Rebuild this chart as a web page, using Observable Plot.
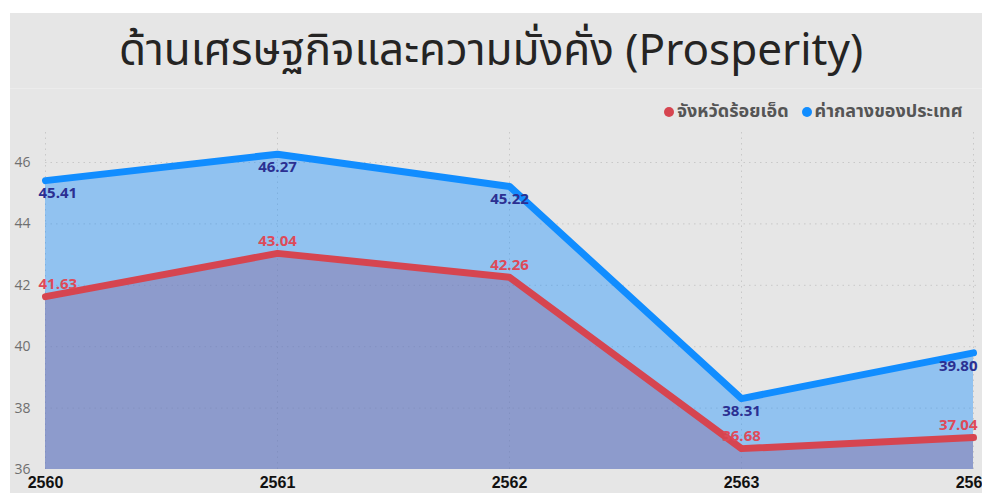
<!DOCTYPE html>
<html>
<head>
<meta charset="utf-8">
<script src="https://cdn.jsdelivr.net/npm/d3@7"></script>
<script src="https://cdn.jsdelivr.net/npm/@observablehq/plot@0.6"></script>
<style>
  html, body { margin: 0; padding: 0; background: #ffffff; width: 982px; height: 493px; overflow: hidden; }
  #panel { position: absolute; left: 10px; top: 13px; width: 972px; height: 480px; background: #e6e6e6; }
  #title { position: absolute; left: 0; top: 16px; width: 982px; height: 72px; text-align: center;
    font-family: "Noto Sans Thai", "Noto Sans", "DejaVu Sans", sans-serif; font-size: 44px; line-height: 72px; color: #252423; white-space: nowrap; }
  #sep { position: absolute; left: 10px; top: 88px; width: 972px; height: 1px; background: #ececec; }
  #legend { position: absolute; left: 664px; top: 99px; white-space: nowrap; font-family: "Noto Sans Thai", "Noto Sans", sans-serif;
    font-weight: 700; font-size: 18px; color: #555555; line-height: 26px; }
  #legend .dot { display: inline-block; width: 10px; height: 10px; border-radius: 50%; margin-right: 3px; vertical-align: 0px; }
  #legend .item { margin-right: 13px; }
  #chart { position: absolute; left: 0; top: 130px; }
</style>
</head>
<body>
<div id="panel"></div>
<div id="title">ด้านเศรษฐกิจและความมั่งคั่ง (Prosperity)</div>
<div id="sep"></div>
<div id="legend"></div>
<div id="chart"></div>
<script>
const years = [2560, 2561, 2562, 2563, 2564];
const seriesNames = ["จังหวัดร้อยเอ็ด", "ค่ากลางของประเทศ"];
const roiEt = [41.63, 43.04, 42.26, 36.68, 37.04];
const national = [45.41, 46.27, 45.22, 38.31, 39.80];
const yTicks = [36, 38, 40, 42, 44, 46];
const colors = ["#D64550", "#118DFF"];
const labelColors = ["#DE4A59", "#2B2F92"];

const yMin = yTicks[0];
const red = years.map((year, i) => ({year, value: roiEt[i], i}));
const blue = years.map((year, i) => ({year, value: national[i], i}));
const last = years.length - 1;

// legend
const legend = document.getElementById("legend");
seriesNames.forEach((name, k) => {
  const span = document.createElement("span");
  span.className = "item";
  span.innerHTML = `<span class="dot" style="background:${colors[k]}"></span>${name}`;
  legend.appendChild(span);
});

const fontNum = "'Open Sans', 'Noto Sans', sans-serif";

function labels(data, color, dy) {
  return [
    Plot.text(data.filter(d => d.i === 0), {x: "year", y: "value", text: d => d.value.toFixed(2), fill: color, dy, dx: -7, textAnchor: "start", fontWeight: 700, fontSize: 15, fontFamily: fontNum}),
    Plot.text(data.filter(d => d.i > 0 && d.i < last), {x: "year", y: "value", text: d => d.value.toFixed(2), fill: color, dy, textAnchor: "middle", fontWeight: 700, fontSize: 15, fontFamily: fontNum}),
    Plot.text(data.filter(d => d.i === last), {x: "year", y: "value", text: d => d.value.toFixed(2), fill: color, dy, dx: 4, textAnchor: "end", fontWeight: 700, fontSize: 15, fontFamily: fontNum})
  ];
}

const chart = Plot.plot({
  width: 982,
  height: 363,
  marginLeft: 45,
  marginRight: 9,
  marginTop: 32,
  marginBottom: 24,
  style: {background: "transparent", overflow: "hidden"},
  x: {type: "linear", domain: [years[0], years[last]], ticks: years, tickFormat: d => String(d)},
  y: {domain: [yMin, yTicks[yTicks.length - 1]], ticks: yTicks},
  marks: [
    Plot.gridY(yTicks.slice(1), {stroke: "#c8c8c8", strokeOpacity: 1, strokeDasharray: "1.5,4", x1: years[0], x2: years[last] + 0.02}),
    Plot.gridX(years, {stroke: "#c8c8c8", strokeOpacity: 1, strokeDasharray: "1.5,4", y1: yMin, y2: 47.3}),
    Plot.areaY(red, {x: "year", y1: yMin, y2: "value", fill: colors[0], fillOpacity: 0.4}),
    Plot.areaY(blue, {x: "year", y1: yMin, y2: "value", fill: colors[1], fillOpacity: 0.4}),
    Plot.line(red, {x: "year", y: "value", stroke: colors[0], strokeWidth: 7, strokeLinecap: "round", strokeLinejoin: "round"}),
    Plot.line(blue, {x: "year", y: "value", stroke: colors[1], strokeWidth: 7, strokeLinecap: "round", strokeLinejoin: "round"}),
    ...labels(blue, labelColors[1], 13),
    ...labels(red, labelColors[0], -12),
    Plot.axisY({ticks: yTicks, tickSize: 0, tickPadding: 15, fontSize: 14, color: "#6f6f6f", fontFamily: fontNum, label: null}),
    Plot.axisX({ticks: years, tickSize: 0, tickPadding: 7, fontSize: 16, fontWeight: 700, fill: "#111", fontFamily: "'Liberation Sans', sans-serif", label: null, tickFormat: d => String(d)})
  ]
});
document.getElementById("chart").appendChild(chart);
</script>
</body>
</html>
